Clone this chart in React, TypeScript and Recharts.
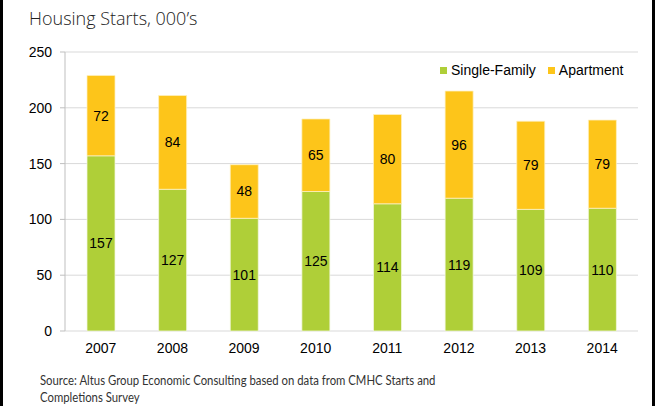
import React from "react";
import { Bar, BarChart, CartesianGrid, LabelList, XAxis, YAxis } from "recharts";

const years = ["2007", "2008", "2009", "2010", "2011", "2012", "2013", "2014"];
const singleFamily = [157, 127, 101, 125, 114, 119, 109, 110];
const apartment = [72, 84, 48, 65, 80, 96, 79, 79];
const yTicks = [0, 50, 100, 150, 200, 250];

const GREEN = "#AFCF38";
const YELLOW = "#FDC51A";
const GRID = "#d9d9d9";
const AXIS = "#bfbfbf";
const FONT = "'Liberation Sans', Arial, sans-serif";

const data = years.map((year, i) => ({ year, sf: singleFamily[i], apt: apartment[i] }));
// boundaries between categories, used for the x-axis tick marks
const edges = years.map((_, i) => i).concat(years.length);

const legendItems = [
  { name: "Single-Family", color: GREEN },
  { name: "Apartment", color: YELLOW },
];

export default function App() {
  return (
    <div style={{ position: "absolute", left: 0, top: 0, width: 659, height: 406, background: "#fff", overflow: "hidden" }}>
      <div style={{ position: "absolute", left: 0, top: 0, width: 3, height: 406, background: "#000" }} />
      <div style={{ position: "absolute", left: 652, top: 0, width: 3, height: 406, background: "#000" }} />
      <div
        style={{
          position: "absolute",
          left: 29,
          top: 6,
          fontFamily: "'Open Sans', sans-serif",
          fontWeight: 300,
          fontSize: 18,
          color: "#222",
          whiteSpace: "nowrap",
        }}
      >
        Housing Starts, 000’s
      </div>
      <BarChart
        width={659}
        height={406}
        data={data}
        margin={{ top: 52, right: 21, bottom: 45, left: 0 }}
        barSize={28}
        style={{ position: "absolute", left: 0, top: 0 }}
      >
        <CartesianGrid vertical={false} stroke={GRID} xAxisId="cat" />
        <XAxis
          xAxisId="edges"
          type="number"
          domain={[0, years.length]}
          ticks={edges}
          height={0}
          axisLine={{ stroke: AXIS }}
          tickLine={{ stroke: AXIS }}
          tickSize={5}
          tickFormatter={() => ""}
        />
        <XAxis
          xAxisId="cat"
          dataKey="year"
          height={30}
          axisLine={false}
          tickLine={false}
          tickSize={0}
          tickMargin={12}
          tick={{ fontSize: 14, fill: "#000", fontFamily: FONT }}
        />
        <YAxis
          width={65}
          domain={[0, 250]}
          ticks={yTicks}
          axisLine={{ stroke: AXIS }}
          tickLine={{ stroke: AXIS }}
          tickSize={5}
          tickMargin={8}
          tick={{ fontSize: 14, fill: "#000", fontFamily: FONT }}
        />
        <Bar xAxisId="cat" dataKey="sf" name="Single-Family" stackId="a" fill={GREEN} stroke="#f3f7df" strokeWidth={0.75} isAnimationActive={false}>
          <LabelList dataKey="sf" position="center" fill="#000" fontSize={14} fontFamily={FONT} />
        </Bar>
        <Bar xAxisId="cat" dataKey="apt" name="Apartment" stackId="a" fill={YELLOW} stroke="#fdf0c0" strokeWidth={0.75} isAnimationActive={false}>
          <LabelList dataKey="apt" position="center" fill="#000" fontSize={14} fontFamily={FONT} />
        </Bar>
      </BarChart>
      <div
        style={{
          position: "absolute",
          left: 440,
          top: 62,
          display: "flex",
          gap: 12,
          fontFamily: FONT,
          fontSize: 14,
          color: "#000",
        }}
      >
        {legendItems.map((it) => (
          <div key={it.name} style={{ display: "flex", alignItems: "center", gap: 4 }}>
            <span style={{ width: 7, height: 7, background: it.color, display: "inline-block" }} />
            <span>{it.name}</span>
          </div>
        ))}
      </div>
      <div
        style={{
          position: "absolute",
          left: 40,
          top: 372,
          fontFamily: "Lato, sans-serif",
          fontSize: 13.5,
          lineHeight: "17px",
          color: "#333",
          whiteSpace: "nowrap",
          transform: "scaleX(0.84)",
          transformOrigin: "left top",
        }}
      >
        Source: Altus Group Economic Consulting based on data from CMHC Starts and
        <br />
        Completions Survey
      </div>
    </div>
  );
}
